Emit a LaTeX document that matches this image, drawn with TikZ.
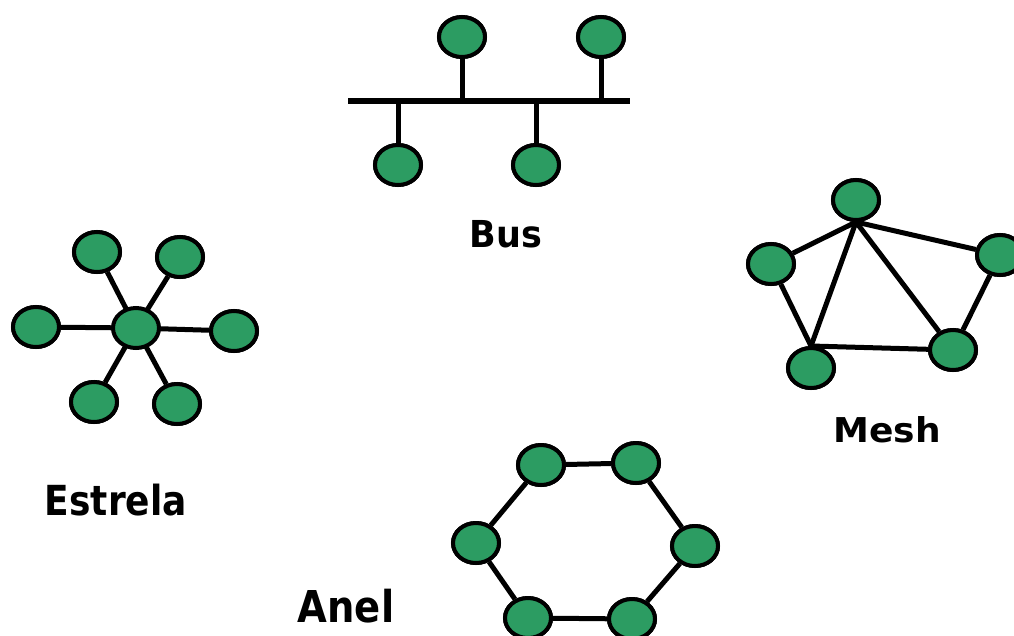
\documentclass[tikz,border=0pt]{standalone}
\usepackage{fontspec}
\setmainfont{DejaVu Sans}
\definecolor{nodegreen}{RGB}{44,156,98}
\tikzset{
  host/.style={ellipse, draw=black, line width=4pt, fill=nodegreen,
               minimum width=46pt, minimum height=40pt, inner sep=0pt},
  link/.style={line width=5pt, black},
  title/.style={anchor=base, inner sep=0pt, font=\bfseries}
}
\usetikzlibrary{shapes.geometric}
\newcommand{\lbl}[3]{\scalebox{1}[#2]{\fontsize{#1}{#1}\selectfont #3}}
\begin{document}
\begin{tikzpicture}[x=1pt,y=-1pt]
\useasboundingbox (0,0) rectangle (1014,635);

% ---- Bus ----
\coordinate (busL) at (348,101);
\coordinate (busR) at (630,101);
\draw[link, line width=5.5pt] (busL) -- (busR);
\node[host] (bt1) at (462,37) {};
\node[host] (bt2) at (601,37) {};
\node[host] (bb1) at (398,165) {};
\node[host] (bb2) at (536,165) {};
\draw[link] (bt1) -- (bt1 |- busL);
\draw[link] (bt2) -- (bt2 |- busL);
\draw[link] (bb1) -- (bb1 |- busL);
\draw[link] (bb2) -- (bb2 |- busL);
\foreach \n in {bt1,bt2,bb1,bb2} \node[host] at (\n) {};
\node[title] (lbus) at (506,247) {\lbl{35}{1.06}{Bus}};

% ---- Estrela ----
\coordinate (sc) at (136,328);
\node[host] (s1) at (36,327) {};
\node[host] (s2) at (234,331) {};
\node[host] (s3) at (97,252) {};
\node[host] (s4) at (180,257) {};
\node[host] (s5) at (94,402) {};
\node[host] (s6) at (177,404) {};
\foreach \n in {s1,s2,s3,s4,s5,s6} \draw[link] (sc) -- (\n);
\node[host] (hub) at (sc) {};
\foreach \n in {s1,s2,s3,s4,s5,s6} \node[host] at (\n) {};
\node[title] (lstar) at (116,515) {\lbl{36}{1.15}{Estrela}};

% ---- Mesh ----
\node[host] (mt)  at (856,200) {};
\node[host] (ml)  at (771,264) {};
\node[host] (mr)  at (1000,255) {};
\node[host] (mbl) at (811,368) {};
\node[host] (mbr) at (953,350) {};
\draw[link] (mt.south) -- (ml);
\draw[link] (mt.south) -- (mbl.north);
\draw[link] (mt.south) -- (mbr);
\draw[link] (mt.south) -- (mr);
\draw[link] (ml) -- (mbl.north);
\draw[link] (mbl.north) -- (mbr);
\draw[link] (mbr) -- (mr);
\foreach \n in {mt,ml,mr,mbl,mbr} \node[host] at (\n) {};
\node[title] (lmesh) at (887,442) {\lbl{36}{0.95}{Mesh}};

% ---- Anel ----
\node[host] (r1) at (541,465) {};
\node[host] (r2) at (636,463) {};
\node[host] (r3) at (695,546) {};
\node[host] (r4) at (632,619) {};
\node[host] (r5) at (528,618) {};
\node[host] (r6) at (476,543) {};
\draw[link] (r1) -- (r2) -- (r3) -- (r4) -- (r5) -- (r6) -- (r1);
\foreach \n in {r1,r2,r3,r4,r5,r6} \node[host] at (\n) {};
\node[title] (lring) at (346,622) {\lbl{38.5}{1.14}{Anel}};
\end{tikzpicture}
\end{document}
